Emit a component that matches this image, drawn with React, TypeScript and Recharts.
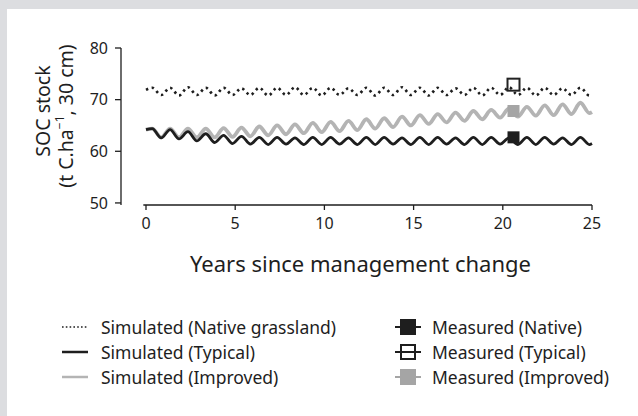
import { ComposedChart, Line, Scatter, XAxis, YAxis, ReferenceLine } from 'recharts';

// half-year turning points of the simulated seasonal cycle
const years = [
    0,
    0.35, 0.85, 1.35, 1.85, 2.35, 2.85, 3.35, 3.85, 4.35, 4.85,
    5.35, 5.85, 6.35, 6.85, 7.35, 7.85, 8.35, 8.85, 9.35, 9.85,
    10.35, 10.85, 11.35, 11.85, 12.35, 12.85, 13.35, 13.85, 14.35, 14.85,
    15.35, 15.85, 16.35, 16.85, 17.35, 17.85, 18.35, 18.85, 19.35, 19.85,
    20.35, 20.85, 21.35, 21.85, 22.35, 22.85, 23.35, 23.85, 24.35, 24.85,
    25,
];

const nativeSim = [
    71.9,
    72.3, 70.9, 72.3, 70.8, 72.4, 70.9, 72.3, 70.8, 72.3, 70.9,
    72.2, 70.9, 72.3, 70.8, 72.3, 70.9, 72.4, 70.9, 72.3, 70.8,
    72.3, 70.9, 72.2, 70.9, 72.3, 70.8, 72.3, 70.9, 72.4, 70.9,
    72.3, 70.8, 72.3, 70.9, 72.2, 70.9, 72.3, 70.8, 72.3, 70.9,
    72.4, 70.9, 72.3, 70.8, 72.3, 70.9, 72.2, 70.9, 72.3, 70.8,
    71.0,
];

const typicalSim = [
    64.2,
    64.4, 62.6, 64.2, 62.4, 63.8, 62.0, 63.4, 61.7, 63.1, 61.5,
    62.9, 61.4, 62.7, 61.3, 62.7, 61.4, 62.6, 61.3, 62.7, 61.3,
    62.7, 61.4, 62.6, 61.3, 62.7, 61.3, 62.7, 61.4, 62.6, 61.3,
    62.7, 61.3, 62.7, 61.4, 62.6, 61.3, 62.7, 61.3, 62.7, 61.4,
    62.6, 61.3, 62.7, 61.3, 62.7, 61.4, 62.6, 61.3, 62.7, 61.3,
    61.5,
];

const improvedSim = [
    64.2,
    64.4, 62.7, 64.4, 62.7, 64.4, 62.7, 64.4, 62.7, 64.5, 62.8,
    64.6, 62.9, 64.8, 63.1, 65.0, 63.3, 65.2, 63.5, 65.5, 63.7,
    65.7, 63.9, 65.9, 64.1, 66.2, 64.4, 66.4, 64.7, 66.7, 65.0,
    67.0, 65.3, 67.2, 65.6, 67.5, 65.9, 67.8, 66.2, 68.0, 66.5,
    68.3, 66.7, 68.6, 66.9, 68.9, 67.0, 69.1, 67.2, 69.4, 67.4,
    67.6,
];

const measuredYear = 20.6;
const measuredNative = 62.7;
const measuredTypical = 72.9;
const measuredImproved = 67.8;

const xTicks = [0, 5, 10, 15, 20, 25];
const yTicks = [50, 60, 70, 80];

const simulatedLabels = ['Simulated (Native grassland)', 'Simulated (Typical)', 'Simulated (Improved)'];
const measuredLabels = ['Measured (Native)', 'Measured (Typical)', 'Measured (Improved)'];

const FONT = '"Noto Sans", sans-serif';
const INK = '#1e1e1e';
const GREY_LINE = '#b4b4b4';
const GREY_MARK = '#a5a5a5';

const data = years.map((year, i) => ({
    year,
    native: nativeSim[i],
    typical: typicalSim[i],
    improved: improvedSim[i],
}));

const nativePts = [{ year: measuredYear, soc: measuredNative }];
const typicalPts = [{ year: measuredYear, soc: measuredTypical }];
const improvedPts = [{ year: measuredYear, soc: measuredImproved }];

const square = (fill: string, stroke?: string) => (p: any) => (
    <rect
        x={p.cx - 6}
        y={p.cy - 6}
        width={12}
        height={12}
        fill={fill}
        stroke={stroke ?? 'none'}
        strokeWidth={stroke ? 2 : 0}
    />
);

function YTitle() {
    return (
        <g fill={INK} fontFamily={FONT} fontSize={19.5}>
            <text transform="translate(42,111) rotate(-90)" textAnchor="middle" dominantBaseline="central">
                SOC stock
            </text>
            <text transform="translate(65,116) rotate(-90)" textAnchor="middle" dominantBaseline="central">
                (t C.ha<tspan dy={-6} fontSize={12}>−1</tspan>
                <tspan dy={6}>, 30 cm)</tspan>
            </text>
        </g>
    );
}

function LineIcon({ kind }: { kind: number }) {
    const stroke = kind === 2 ? GREY_LINE : INK;
    return (
        <svg width={28} height={12} style={{ position: 'absolute', left: 61, top: -6 }}>
            <line
                x1={1}
                x2={27}
                y1={6}
                y2={6}
                stroke={stroke}
                strokeWidth={kind === 0 ? 1.6 : 2.5}
                strokeDasharray={kind === 0 ? '1.6 2.2' : undefined}
            />
        </svg>
    );
}

function MarkIcon({ kind }: { kind: number }) {
    const col = kind === 2 ? GREY_MARK : INK;
    return (
        <svg width={28} height={18} style={{ position: 'absolute', left: 394, top: -9 }}>
            <line x1={1} x2={27} y1={9} y2={9} stroke={col} strokeWidth={2} />
            {kind === 1 ? (
                <rect x={7} y={2} width={14} height={14} fill="none" stroke={col} strokeWidth={2} />
            ) : (
                <rect x={6} y={1} width={16} height={16} fill={col} />
            )}
        </svg>
    );
}

export default function App() {
    return (
        <div style={{ position: 'fixed', left: 0, top: 0, width: 638, height: 416, background: '#dcdde0', fontFamily: FONT }}>
            <div style={{ position: 'absolute', left: 7, top: 9, right: 0, bottom: 0, background: '#ffffff' }} />
            <div style={{ position: 'absolute', left: 0, top: 0 }}>
                <ComposedChart width={638} height={416} data={data} margin={{ top: 48, right: 46, left: 51, bottom: 171 }}>
                    <XAxis
                        type="number"
                        dataKey="year"
                        domain={[0, 25]}
                        ticks={xTicks}
                        padding={{ left: 25, right: 0 }}
                        axisLine={false}
                        tickLine={{ stroke: INK, strokeWidth: 1.3 }}
                        tickSize={5}
                        tickMargin={8}
                        height={40}
                        tick={{ fill: INK, fontSize: 16, fontFamily: FONT }}
                        label={{ value: 'Years since management change', position: 'bottom', offset: 11, fill: INK, fontSize: 22, fontFamily: FONT, dx: 4 }}
                    />
                    <YAxis
                        type="number"
                        domain={[49.6, 80]}
                        ticks={yTicks}
                        width={70}
                        axisLine={{ stroke: INK, strokeWidth: 1.3 }}
                        tickLine={{ stroke: INK, strokeWidth: 1.3 }}
                        tickSize={6}
                        tickMargin={7}
                        tick={{ fill: INK, fontSize: 16, fontFamily: FONT }}
                        label={{ content: () => <YTitle /> }}
                    />
                    <ReferenceLine
                        segment={[{ x: -0.15, y: 49.6 }, { x: 25, y: 49.6 }]}
                        stroke={INK}
                        strokeWidth={1.3}
                        ifOverflow="visible"
                    />
                    <Line
                        type="monotone"
                        dataKey="native"
                        stroke={INK}
                        strokeWidth={2.6}
                        strokeDasharray="2.4 3.6"
                        dot={false}
                        isAnimationActive={false}
                    />
                    <Line
                        type="monotone"
                        dataKey="improved"
                        stroke={GREY_LINE}
                        strokeWidth={3.8}
                        dot={false}
                        isAnimationActive={false}
                    />
                    <Line
                        type="monotone"
                        dataKey="typical"
                        stroke={INK}
                        strokeWidth={2.8}
                        dot={false}
                        isAnimationActive={false}
                    />
                    <Scatter data={improvedPts} dataKey="soc" shape={square(GREY_MARK)} isAnimationActive={false} />
                    <Scatter data={nativePts} dataKey="soc" shape={square(INK)} isAnimationActive={false} />
                    <Scatter data={typicalPts} dataKey="soc" shape={square('none', '#222')} isAnimationActive={false} />
                </ComposedChart>
            </div>
            {simulatedLabels.map((label, i) => (
                <div key={label} style={{ position: 'absolute', left: 0, top: 327 + i * 25, width: 638 }}>
                    <LineIcon kind={i} />
                    <span style={{ position: 'absolute', left: 101, top: -12, fontSize: 17.5, lineHeight: '24px', color: INK, whiteSpace: 'nowrap' }}>
                        {label}
                    </span>
                    <MarkIcon kind={i} />
                    <span style={{ position: 'absolute', left: 432, top: -12, fontSize: 17.5, lineHeight: '24px', color: INK, whiteSpace: 'nowrap' }}>
                        {measuredLabels[i]}
                    </span>
                </div>
            ))}
        </div>
    );
}
